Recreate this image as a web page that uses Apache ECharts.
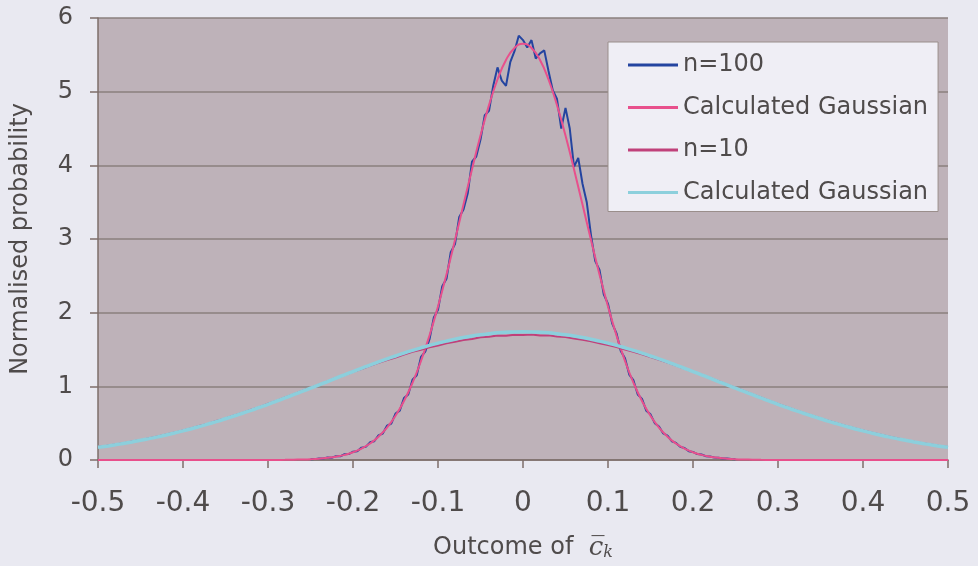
<!DOCTYPE html>
<html>
<head>
<meta charset="utf-8">
<script src="https://cdn.jsdelivr.net/npm/echarts@6/dist/echarts.min.js"></script>
<style>
html,body{margin:0;padding:0;background:#e9e9f1;}
#chart{width:978px;height:566px;}
</style>
</head>
<body>
<div id="chart"></div>
<script>
// x grid positions (coarse: -0.5..0.5 step 0.01, fine: -0.25..0.25 step 0.005)
const xCoarseStart = -0.5, xCoarseStep = 0.01;
const xFineStart = -0.25, xFineStep = 0.005;

// n=100 histogram, x = -0.25 .. 0.25 step 0.005
const n100 = [0.010,0.012,0.022,0.020,0.034,0.030,0.052,0.050,0.078,0.080,
0.112,0.120,0.168,0.178,0.240,0.255,0.335,0.360,0.465,0.495,
0.630,0.670,0.840,0.890,1.090,1.150,1.400,1.470,1.640,1.930,
2.040,2.360,2.460,2.820,2.930,3.300,3.400,3.620,4.050,4.120,
4.350,4.680,4.740,5.080,5.330,5.150,5.080,5.400,5.550,5.760,
5.700,
5.600,5.700,5.450,5.520,5.560,5.280,5.020,4.900,4.500,4.780,
4.500,3.980,4.100,3.750,3.500,3.050,2.700,2.580,2.250,2.120,
1.850,1.720,1.480,1.380,1.160,1.080,0.890,0.830,0.670,0.620,
0.500,0.455,0.360,0.330,0.255,0.232,0.178,0.162,0.120,0.110,
0.080,0.074,0.052,0.048,0.033,0.030,0.021,0.019,0.013,0.011];

// Calculated Gaussian for n=100, x = -0.5 .. 0.5 step 0.01
const gauss100 = [0,0,0,0,0,0,0,0,0,0,
0,0,0,0,0,0,0,0,0,0,
0,0.001,0.002,0.004,0.007,0.011,0.018,0.029,0.045,0.070,
0.105,0.155,0.224,0.317,0.440,0.600,0.801,1.048,1.345,1.691,
2.085,2.519,2.985,3.467,3.946,4.404,4.817,5.165,5.429,5.594,
5.650,
5.594,5.429,5.165,4.817,4.404,3.946,3.467,2.985,2.519,2.085,
1.691,1.345,1.048,0.801,0.600,0.440,0.317,0.224,0.155,0.105,
0.070,0.045,0.029,0.018,0.011,0.007,0.004,0.002,0.001,0,
0,0,0,0,0,0,0,0,0,0,
0,0,0,0,0,0,0,0,0,0];

// n=10 histogram, x = -0.5 .. 0.5 step 0.01
const n10 = [0.180,0.192,0.212,0.228,0.252,0.270,0.297,0.318,0.348,0.372,
0.402,0.430,0.466,0.494,0.533,0.563,0.606,0.640,0.684,0.718,
0.764,0.803,0.850,0.889,0.937,0.978,1.024,1.066,1.115,1.152,
1.198,1.236,1.280,1.318,1.357,1.392,1.430,1.470,1.495,1.530,
1.555,1.585,1.605,1.630,1.642,1.665,1.672,1.690,1.688,1.700,
1.696,
1.702,1.690,1.692,1.676,1.668,1.650,1.632,1.612,1.585,1.560,
1.532,1.500,1.468,1.435,1.398,1.360,1.322,1.282,1.240,1.200,
1.158,1.114,1.070,1.024,0.980,0.936,0.890,0.848,0.802,0.762,
0.720,0.680,0.640,0.603,0.565,0.530,0.495,0.462,0.430,0.400,
0.372,0.345,0.318,0.294,0.270,0.249,0.228,0.209,0.191,0.175];

// Calculated Gaussian for n=10, x = -0.5 .. 0.5 step 0.01
const gauss10 = [0.172,0.188,0.206,0.225,0.245,0.267,0.290,0.314,0.340,0.367,
0.395,0.425,0.457,0.490,0.524,0.560,0.597,0.635,0.674,0.715,
0.756,0.799,0.842,0.886,0.931,0.975,1.019,1.065,1.111,1.156,
1.201,1.245,1.289,1.331,1.372,1.412,1.451,1.488,1.523,1.556,
1.586,1.614,1.640,1.663,1.683,1.700,1.714,1.726,1.734,1.738,
1.740,
1.738,1.734,1.726,1.714,1.700,1.683,1.663,1.640,1.614,1.586,
1.556,1.523,1.488,1.451,1.412,1.372,1.331,1.289,1.245,1.201,
1.156,1.111,1.065,1.019,0.975,0.931,0.886,0.842,0.799,0.756,
0.715,0.674,0.635,0.597,0.560,0.524,0.490,0.457,0.425,0.395,
0.367,0.340,0.314,0.290,0.267,0.245,0.225,0.206,0.188,0.172];

const seriesNames = ['n=100','Calculated Gaussian','n=10','Calculated Gaussian '];
const yTicks = [0,1,2,3,4,5,6];
const xTicks = [-0.5,-0.4,-0.3,-0.2,-0.1,0,0.1,0.2,0.3,0.4,0.5];

function pairs(start, step, ys){
  return ys.map((y,i)=>[+(start+i*step).toFixed(4), y]);
}

const chart = echarts.init(document.getElementById('chart'));
const font = '"DejaVu Sans", Verdana, sans-serif';
const txt = '#4f4b4b';
chart.setOption({
  backgroundColor:'#e9e9f1',
  animation:false,
  grid:{left:98,right:30,top:18,bottom:105,show:true,backgroundColor:'#beb2b9',borderWidth:0},
  legend:{
    orient:'vertical', left:608, top:42,
    backgroundColor:'#efeef5', borderColor:'#9a8e8b', borderWidth:1,
    padding:[11,10,7,20], itemGap:18.5, itemWidth:50, itemHeight:3,
    icon:'rect',
    formatter: n => n.trim(),
    textStyle:{fontFamily:font,fontSize:24,color:txt,lineHeight:24},
    data:seriesNames
  },
  xAxis:{
    type:'value', min:xTicks[0], max:xTicks[xTicks.length-1], interval:0.1,
    axisLine:{onZero:false,lineStyle:{color:'#7d6e6a',width:1.5}},
    axisTick:{show:true,length:8,lineStyle:{color:'#7d6e6a',width:1.5}},
    splitLine:{show:false},
    axisLabel:{margin:30,fontFamily:font,fontSize:28,color:txt,
      formatter:v=>String(Math.round(v*10)/10)},
    name:'Outcome of  {m|c\u0305}{s|k}', nameLocation:'middle', nameGap:75,
    nameTextStyle:{fontFamily:font,fontSize:24,color:txt,
      rich:{m:{fontFamily:'"DejaVu Serif", serif',fontStyle:'italic',fontSize:26,color:txt},
            s:{fontFamily:'"DejaVu Serif", serif',fontStyle:'italic',fontSize:16,color:txt,verticalAlign:'bottom',padding:[10,0,0,0]}}}
  },
  yAxis:{
    type:'value', min:yTicks[0], max:yTicks[yTicks.length-1], interval:1,
    axisLine:{show:true,onZero:false,lineStyle:{color:'#7d6e6a',width:1.5}},
    axisTick:{show:true,length:8,lineStyle:{color:'#7d6e6a',width:1.5}},
    splitLine:{show:true,lineStyle:{color:'#8a7f7e',width:1.5}},
    axisLabel:{margin:25,fontFamily:font,fontSize:24,color:txt},
    name:'Normalised probability', nameLocation:'middle', nameGap:65,
    nameTextStyle:{fontFamily:font,fontSize:24,color:txt}
  },
  series:[
    {name:seriesNames[0],type:'line',showSymbol:false,data:pairs(xFineStart,xFineStep,n100),
     lineStyle:{color:'#2444a0',width:2},itemStyle:{color:'#2444a0'},z:2},
    {name:seriesNames[1],type:'line',showSymbol:false,smooth:true,data:pairs(xCoarseStart,xCoarseStep,gauss100),
     lineStyle:{color:'#e8508c',width:2},itemStyle:{color:'#e8508c'},z:3},
    {name:seriesNames[2],type:'line',showSymbol:false,data:pairs(xCoarseStart,xCoarseStep,n10),
     lineStyle:{color:'#c0407a',width:2},itemStyle:{color:'#c0407a'},z:4},
    {name:seriesNames[3],type:'line',showSymbol:false,smooth:true,data:pairs(xCoarseStart,xCoarseStep,gauss10),
     lineStyle:{color:'#8ccfdc',width:3.5},itemStyle:{color:'#8ccfdc'},z:5}
  ]
});
</script>
</body>
</html>
